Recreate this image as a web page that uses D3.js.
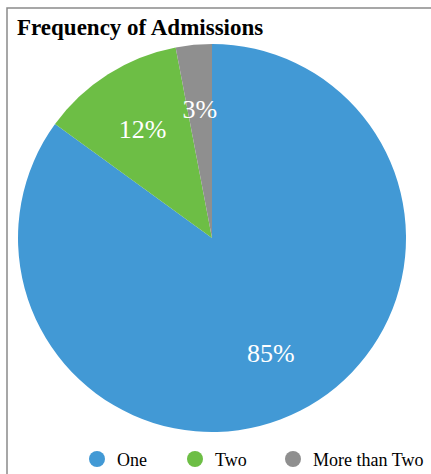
<!DOCTYPE html>
<html><head><meta charset="utf-8">
<script src="https://cdn.jsdelivr.net/npm/d3@7"></script>
<style>html,body{margin:0;padding:0;background:#fff;}svg{display:block;}</style>
</head><body>
<script>
const categories = ["One", "Two", "More than Two"];
const values = [85, 12, 3];
const colors = ["#4299d5", "#6dbe45", "#8f8f8f"];
const title = "Frequency of Admissions";

const W = 431, H = 474;
const svg = d3.select("body").append("svg").attr("width", W).attr("height", H);
const serif = "'Liberation Serif', 'Times New Roman', serif";

// frame (top & left visible, right/bottom cropped)
svg.append("rect").attr("x", 7).attr("y", 8).attr("width", 440).attr("height", 480)
  .attr("fill", "#fff").attr("stroke", "#8a8a8a").attr("stroke-width", 1.5);

svg.append("text").attr("x", 17).attr("y", 35)
  .attr("font-family", serif)
  .attr("font-weight", "bold").attr("font-size", 23).attr("fill", "#000")
  .text(title);

const cx = 212, cy = 238, R = 194;
const color = d3.scaleOrdinal().domain(categories).range(colors);
const pie = d3.pie().sort(null).value(d => d.v);
const data = categories.map((c, i) => ({c, v: values[i]}));
const arcs = pie(data);
const arc = d3.arc().innerRadius(0).outerRadius(R);
const labelArc = d3.arc().innerRadius(R * 2 / 3).outerRadius(R * 2 / 3);

const g = svg.append("g").attr("transform", `translate(${cx},${cy})`);
g.selectAll("path").data(arcs).join("path")
  .attr("d", arc).attr("fill", d => color(d.data.c));

g.selectAll("text.lbl").data(arcs).join("text").attr("class", "lbl")
  .attr("transform", d => `translate(${labelArc.centroid(d)})`)
  .attr("text-anchor", "middle").attr("dy", "0.35em")
  .attr("font-family", serif)
  .attr("font-size", 26).attr("fill", "#fff")
  .text(d => d.data.v + "%");

// legend
const legend = svg.append("g");
const lx = d3.scalePoint().domain(categories).range([97, 293]);
const items = legend.selectAll("g").data(categories).join("g")
  .attr("transform", d => `translate(${lx(d)},459)`);
items.append("circle").attr("r", 8).attr("fill", d => color(d));
items.append("text").attr("x", 20).attr("y", 7)
  .attr("font-family", serif)
  .attr("font-size", 18).attr("fill", "#000").text(d => d);
</script>
</body></html>
